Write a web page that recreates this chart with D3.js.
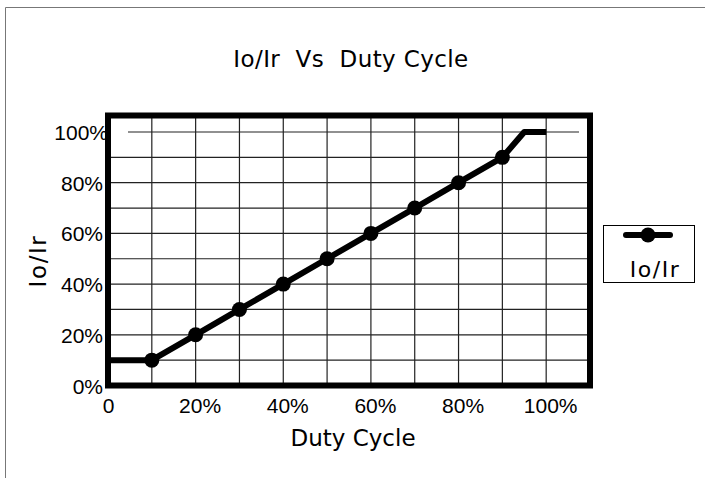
<!DOCTYPE html>
<html>
<head>
<meta charset="utf-8">
<script src="https://cdn.jsdelivr.net/npm/d3@7"></script>
<style>
  body { margin: 0; background: #fff; }
  svg { display: block; }
</style>
</head>
<body>
<svg id="chart" width="705" height="478"></svg>
<script>
// values
const dutyCycle = [0, 0.1, 0.2, 0.3, 0.4, 0.5, 0.6, 0.7, 0.8, 0.9, 0.95, 1.0];
const ioIr      = [0.1, 0.1, 0.2, 0.3, 0.4, 0.5, 0.6, 0.7, 0.8, 0.9, 1.0, 1.0];
const hasMarker = [false, true, true, true, true, true, true, true, true, true, false, false];
const xTickValues = [0, 0.2, 0.4, 0.6, 0.8, 1.0];
const xTickLabels = ["0", "20%", "40%", "60%", "80%", "100%"];
const yTickValues = [0, 0.2, 0.4, 0.6, 0.8, 1.0];
const yTickLabels = ["0%", "20%", "40%", "60%", "80%", "100%"];
const gridSteps = d3.range(0, 11).map(i => i / 10);

function makeChart() {
    let data = dutyCycle.map((d, i) => ({ x: d, y: ioIr[i], marker: hasMarker[i] }));

    let svg = d3.select("#chart");

    // outer frame (cropped on the right and bottom)
    svg.append("path")
        .attr("d", "M5.5,478 V7.5 H705")
        .attr("fill", "none")
        .attr("stroke", "#777")
        .attr("stroke-width", 1);

    let x_scale = d3.scaleLinear()
        .domain([0, 1.1])
        .range([108, 590]);

    let y_scale = d3.scaleLinear()
        .domain([0, 1.065])
        .range([385.5, 115.5]);

    let [x0, x1] = x_scale.range();
    let [y0, y1] = y_scale.range();

    // grid
    let grid = svg.append("g").attr("class", "grid");
    grid.selectAll(".vline")
        .data(gridSteps.slice(1))
        .enter().append("line")
        .attr("x1", d => x_scale(d))
        .attr("x2", d => x_scale(d))
        .attr("y1", y1)
        .attr("y2", y0)
        .attr("stroke", "#222")
        .attr("stroke-width", 1.2);
    grid.selectAll(".hline")
        .data(gridSteps.slice(1))
        .enter().append("line")
        .attr("x1", d => d === 1 ? 128 : x0)
        .attr("x2", d => d === 1 ? 579 : x1)
        .attr("y1", d => y_scale(d))
        .attr("y2", d => y_scale(d))
        .attr("stroke", "#222")
        .attr("stroke-width", 1.2);

    // thick plot frame
    svg.append("rect")
        .attr("x", x0)
        .attr("y", y1)
        .attr("width", x1 - x0)
        .attr("height", y0 - y1)
        .attr("fill", "none")
        .attr("stroke", "#000")
        .attr("stroke-width", 6);

    // x axis labels
    let xAxis = d3.axisBottom(x_scale)
        .tickValues(xTickValues)
        .tickFormat((d, i) => xTickLabels[i])
        .tickSize(0)
        .tickPadding(13);
    svg.append("g")
        .attr("transform", `translate(0,${y0})`)
        .call(xAxis)
        .call(g => g.select(".domain").remove())
        .call(g => g.selectAll(".tick text")
            .attr("dx", (d, i) => i === 0 ? 0 : 4)
            .style("font-family", "'Liberation Sans', Arial, sans-serif")
            .style("font-size", "21px")
            .style("fill", "#000"));

    // y axis labels
    let yAxis = d3.axisLeft(y_scale)
        .tickValues(yTickValues)
        .tickFormat((d, i) => yTickLabels[i])
        .tickSize(0)
        .tickPadding(5);
    svg.append("g")
        .attr("transform", `translate(${x0},0)`)
        .call(yAxis)
        .call(g => g.select(".domain").remove())
        .call(g => g.selectAll(".tick text")
            .attr("dy", "0.36em")
            .attr("dx", d => d === 1 ? 5 : 0)
            .style("font-family", "'Liberation Sans', Arial, sans-serif")
            .style("font-size", "21px")
            .style("fill", "#000"));

    // series line
    let line = d3.line()
        .x(d => x_scale(d.x))
        .y(d => y_scale(d.y));

    svg.append("path")
        .datum(data)
        .attr("d", line)
        .attr("fill", "none")
        .attr("stroke", "#000")
        .attr("stroke-width", 6)
        .attr("stroke-linejoin", "round")
        .attr("stroke-linecap", "butt");

    svg.selectAll(".dot")
        .data(data.filter(d => d.marker))
        .enter().append("circle")
        .attr("cx", d => x_scale(d.x))
        .attr("cy", d => y_scale(d.y))
        .attr("r", 7.5)
        .attr("fill", "#000");

    // title
    svg.append("text")
        .attr("x", 351)
        .attr("y", 67)
        .attr("text-anchor", "middle")
        .style("font-family", "'DejaVu Sans', Verdana, sans-serif")
        .style("font-size", "23px")
        .style("letter-spacing", "0.4px")
        .style("white-space", "pre")
        .attr("xml:space", "preserve")
        .text("Io/Ir  Vs  Duty Cycle");

    // x label
    svg.append("text")
        .attr("x", 353)
        .attr("y", 446)
        .attr("text-anchor", "middle")
        .style("font-family", "'DejaVu Sans', Verdana, sans-serif")
        .style("font-size", "23px")
        .text("Duty Cycle");

    // y label
    svg.append("text")
        .attr("transform", "translate(46,261) rotate(-90)")
        .attr("text-anchor", "middle")
        .style("font-family", "'DejaVu Sans', Verdana, sans-serif")
        .style("font-size", "23px")
        .style("letter-spacing", "1.6px")
        .text("Io/Ir");

    // legend
    let legend = svg.append("g");
    legend.append("rect")
        .attr("x", 603.5)
        .attr("y", 225.5)
        .attr("width", 91)
        .attr("height", 57)
        .attr("fill", "#fff")
        .attr("stroke", "#000")
        .attr("stroke-width", 1);
    legend.append("line")
        .attr("x1", 626)
        .attr("x2", 670)
        .attr("y1", 235)
        .attr("y2", 235)
        .attr("stroke", "#000")
        .attr("stroke-width", 6)
        .attr("stroke-linecap", "round");
    legend.append("circle")
        .attr("cx", 648)
        .attr("cy", 235)
        .attr("r", 7.5)
        .attr("fill", "#000");
    legend.append("text")
        .attr("x", 655)
        .attr("y", 277)
        .attr("text-anchor", "middle")
        .style("font-family", "'DejaVu Sans', Verdana, sans-serif")
        .style("font-size", "22px")
        .style("letter-spacing", "1.5px")
        .text("Io/Ir");
}

makeChart();
</script>
</body>
</html>
